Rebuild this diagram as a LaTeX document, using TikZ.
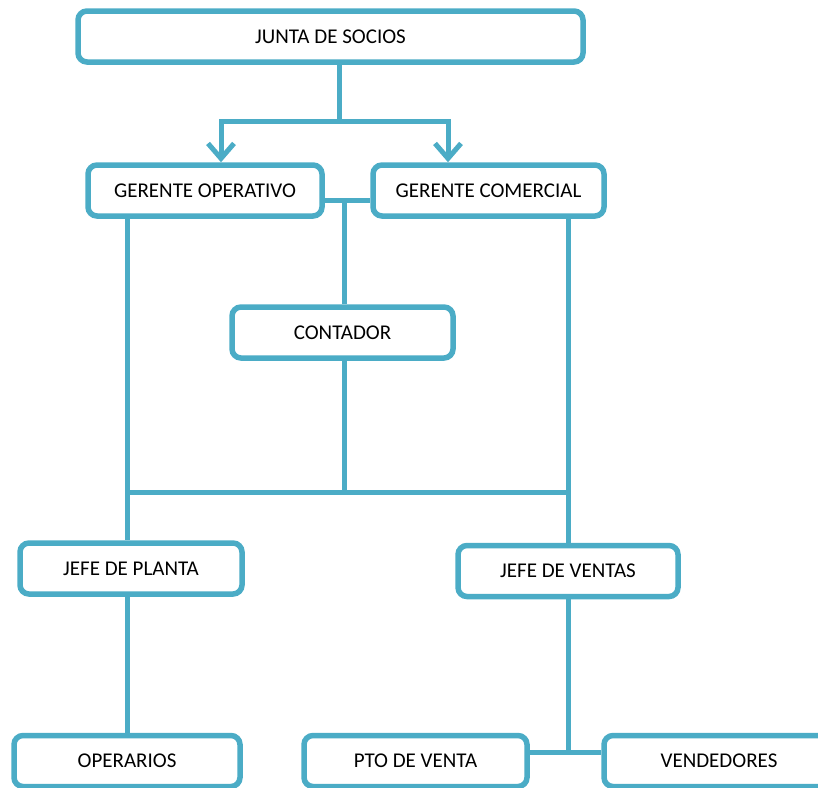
\documentclass[tikz,border=0pt]{standalone}
\usepackage{fontspec}
\setmainfont{Carlito}
\usepackage{xcolor}
\usetikzlibrary{positioning,arrows.meta}
\definecolor{orgline}{HTML}{4BACC6}
\tikzset{
    puesto/.style={
        rectangle,
        rounded corners=9pt,
        draw=orgline,
        line width=5.5pt,
        fill=white,
        text centered,
        inner sep=0pt,
        minimum height=51pt,
        font=\fontsize{21}{25}\selectfont
    },
    linea/.style={
        draw=orgline,
        line width=5pt
    },
    flecha/.style={
        linea,
        -{Straight Barb[length=15pt,width=26pt,line width=5pt]}
    }
}

\begin{document}
\begin{tikzpicture}[x=1pt,y=-1pt]
            \clip (0,0) rectangle (818,787);
            \node (junta) [puesto, minimum width=505pt] at (330.5,36.5) {JUNTA DE SOCIOS};
            \node (operativo) [puesto, minimum width=234pt] at (205,190.5) {GERENTE OPERATIVO};
            \node (comercial) [puesto, minimum width=231pt] at (488.5,190.5) {GERENTE COMERCIAL};
            \node (contador) [puesto, minimum width=221pt] at (342.5,332.5) {CONTADOR};
            \node (planta) [puesto, minimum width=222pt] at (131,568.5) {JEFE DE PLANTA};
            \node (ventas) [puesto, minimum width=220pt] at (568,571) {JEFE DE VENTAS};
            \node (operarios) [puesto, minimum width=226pt] at (127,761) {OPERARIOS};
            \node (pto) [puesto, minimum width=223pt] at (415.5,761) {PTO DE VENTA};
            \node (vendedores) [puesto, minimum width=230pt] at (719,761) {VENDEDORES};
            % puntos de union
            \coordinate (reparto) at (339,121);
            \coordinate (izq) at (221,121);
            \coordinate (der) at (448,121);
            \coordinate (enlace) at (344,200);
            \coordinate (barra) at (344,492);
            \coordinate (colizq) at (127,492);
            \coordinate (colder) at (568,492);
            \coordinate (tienda) at (568,752);
            \draw [linea] (junta.south -| reparto) -- (reparto);
            \draw [linea, line cap=rect] (izq) -- (der);
            \draw [flecha] (izq) -- (izq |- operativo.north);
            \draw [flecha] (der) -- (der |- comercial.north);
            \draw [linea] (operativo.east |- enlace) -- (comercial.west |- enlace);
            \draw [linea] (enlace) -- (enlace |- contador.north);
            \draw [linea] (contador.south -| barra) -- (barra);
            \draw [linea] (colizq) -- (colder);
            \draw [linea] (colizq |- operativo.south) -- (colizq |- planta.north);
            \draw [linea] (colder |- comercial.south) -- (colder |- ventas.north);
            \draw [linea] (colizq |- planta.south) -- (colizq |- operarios.north);
            \draw [linea] (ventas.south) -- (tienda);
            \draw [linea] (pto.east |- tienda) -- (vendedores.west |- tienda);
        \end{tikzpicture}
\end{document}
